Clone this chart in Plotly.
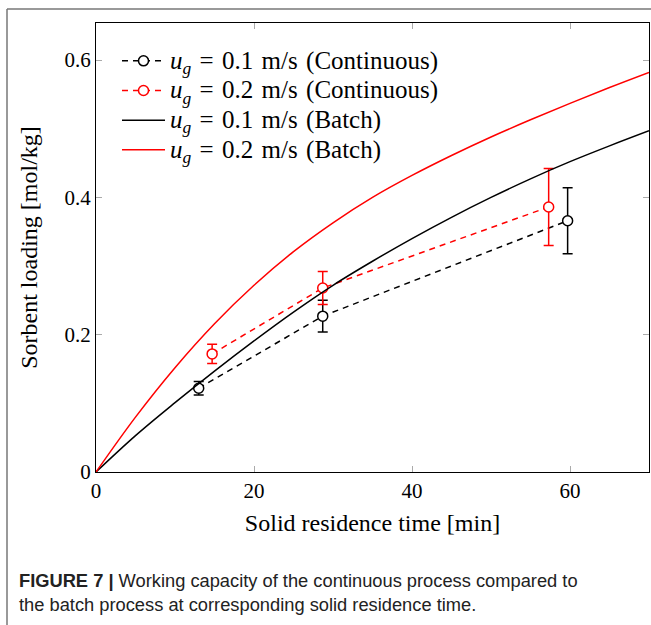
import plotly.graph_objects as go

# Continuous process measurements
cont_x_01 = [13.0, 28.7, 59.7]
cont_y_01 = [0.122, 0.227, 0.366]
cont_err_01 = [0.010, 0.023, 0.048]

cont_x_02 = [14.7, 28.7, 57.3]
cont_y_02 = [0.172, 0.268, 0.386]
cont_err_02 = [0.014, 0.024, 0.056]

# Batch curves
batch_x = [0, 5, 10, 15, 20, 25, 30, 35, 40, 45, 50, 55, 60, 65, 70]
batch_y_01 = [0, 0.053, 0.101, 0.147, 0.191, 0.233, 0.272, 0.307, 0.340,
              0.371, 0.400, 0.427, 0.452, 0.475, 0.497]
batch_y_02 = [0, 0.080, 0.152, 0.216, 0.272, 0.321, 0.363, 0.400, 0.432,
              0.461, 0.488, 0.513, 0.537, 0.560, 0.582]

x_ticks = [0, 20, 40, 60]
y_ticks = [0, 0.2, 0.4, 0.6]
y_tick_labels = ["0", "0.2", "0.4", "0.6"]

RED = "#ff0000"
BLACK = "#000000"
SERIF = "Liberation Serif"
SP = "\u2004"

def lname(v, kind):
    return (f'<span style="font-size:25px"><i>u<sub>g</sub></i>{SP}={SP}'
            f'{v}{SP}m/s{SP}({kind})</span>')

fig = go.Figure()

def cont_trace(x, y, e, color, name):
    return go.Scatter(
        x=x, y=y, name=name, mode="lines+markers",
        line=dict(color=color, width=1.5, dash="6px,5px"),
        marker=dict(symbol="circle", size=10, color="white",
                    line=dict(color=color, width=1.5)),
        error_y=dict(type="data", array=e, visible=True, color=color,
                     thickness=1.5, width=5),
    )

fig.add_trace(cont_trace(cont_x_01, cont_y_01, cont_err_01, BLACK,
                         lname("0.1", "Continuous")))
fig.add_trace(cont_trace(cont_x_02, cont_y_02, cont_err_02, RED,
                         lname("0.2", "Continuous")))
fig.add_trace(go.Scatter(x=batch_x, y=batch_y_01, mode="lines",
                         line=dict(color=BLACK, width=1.5, shape="spline"),
                         name=lname("0.1", "Batch")))
fig.add_trace(go.Scatter(x=batch_x, y=batch_y_02, mode="lines",
                         line=dict(color=RED, width=1.5, shape="spline"),
                         name=lname("0.2", "Batch")))

W, H = 651, 625
L, R, T, B = 96, 2, 23, 153
pw, ph = W - L - R, H - T - B

def px(xp):
    return (xp - L) / pw

def py(yp):
    return (H - B - yp) / ph

axis_common = dict(
    showgrid=False, zeroline=False, showline=True, linecolor="black",
    linewidth=1, mirror="allticks", ticks="inside", ticklen=6,
    tickcolor="#aaaaaa", tickwidth=1, automargin=False,
    tickfont=dict(family=SERIF, size=21, color="black"),
)

fig.update_xaxes(range=[0, 70], tickvals=x_ticks,
                 title=dict(text="Solid residence time [min]",
                            font=dict(family=SERIF, size=24, color="black"),
                            standoff=11),
                 **axis_common)
fig.update_yaxes(range=[0, 0.654], tickvals=y_ticks, ticktext=y_tick_labels,
                 title=dict(text="Sorbent loading [mol/kg]",
                            font=dict(family=SERIF, size=24, color="black"),
                            standoff=20),
                 **axis_common)

fig.add_annotation(xref="paper", yref="paper", x=px(17), y=py(580),
                   xanchor="left", yanchor="middle", showarrow=False,
                   text="<b>FIGURE 7 |</b> Working capacity of the continuous process compared to",
                   font=dict(family="Liberation Sans", size=18.3, color="#222222"))
fig.add_annotation(xref="paper", yref="paper", x=px(17), y=py(604),
                   xanchor="left", yanchor="middle", showarrow=False,
                   text="the batch process at corresponding solid residence time.",
                   font=dict(family="Liberation Sans", size=18.3, color="#222222"))

frame = dict(color="#777777", width=1.5)
fig.add_shape(type="line", xref="paper", yref="paper",
              x0=px(7), y0=py(9), x1=px(660), y1=py(9), line=frame)
fig.add_shape(type="line", xref="paper", yref="paper",
              x0=px(7), y0=py(9), x1=px(7), y1=py(640), line=frame)

fig.update_layout(
    width=W, height=H,
    margin=dict(l=L, r=R, t=T, b=B),
    paper_bgcolor="white", plot_bgcolor="white",
    showlegend=True,
    legend=dict(x=px(117), y=py(41), xanchor="left", yanchor="top",
                bgcolor="rgba(0,0,0,0)", borderwidth=0,
                font=dict(family=SERIF, size=20.5, color="black"),
                tracegroupgap=0, itemwidth=43),
)

fig.write_html(
    "out.html",
    config={"displayModeBar": False},
    post_script="document.body.style.margin='0';document.body.style.overflow='hidden';",
)
